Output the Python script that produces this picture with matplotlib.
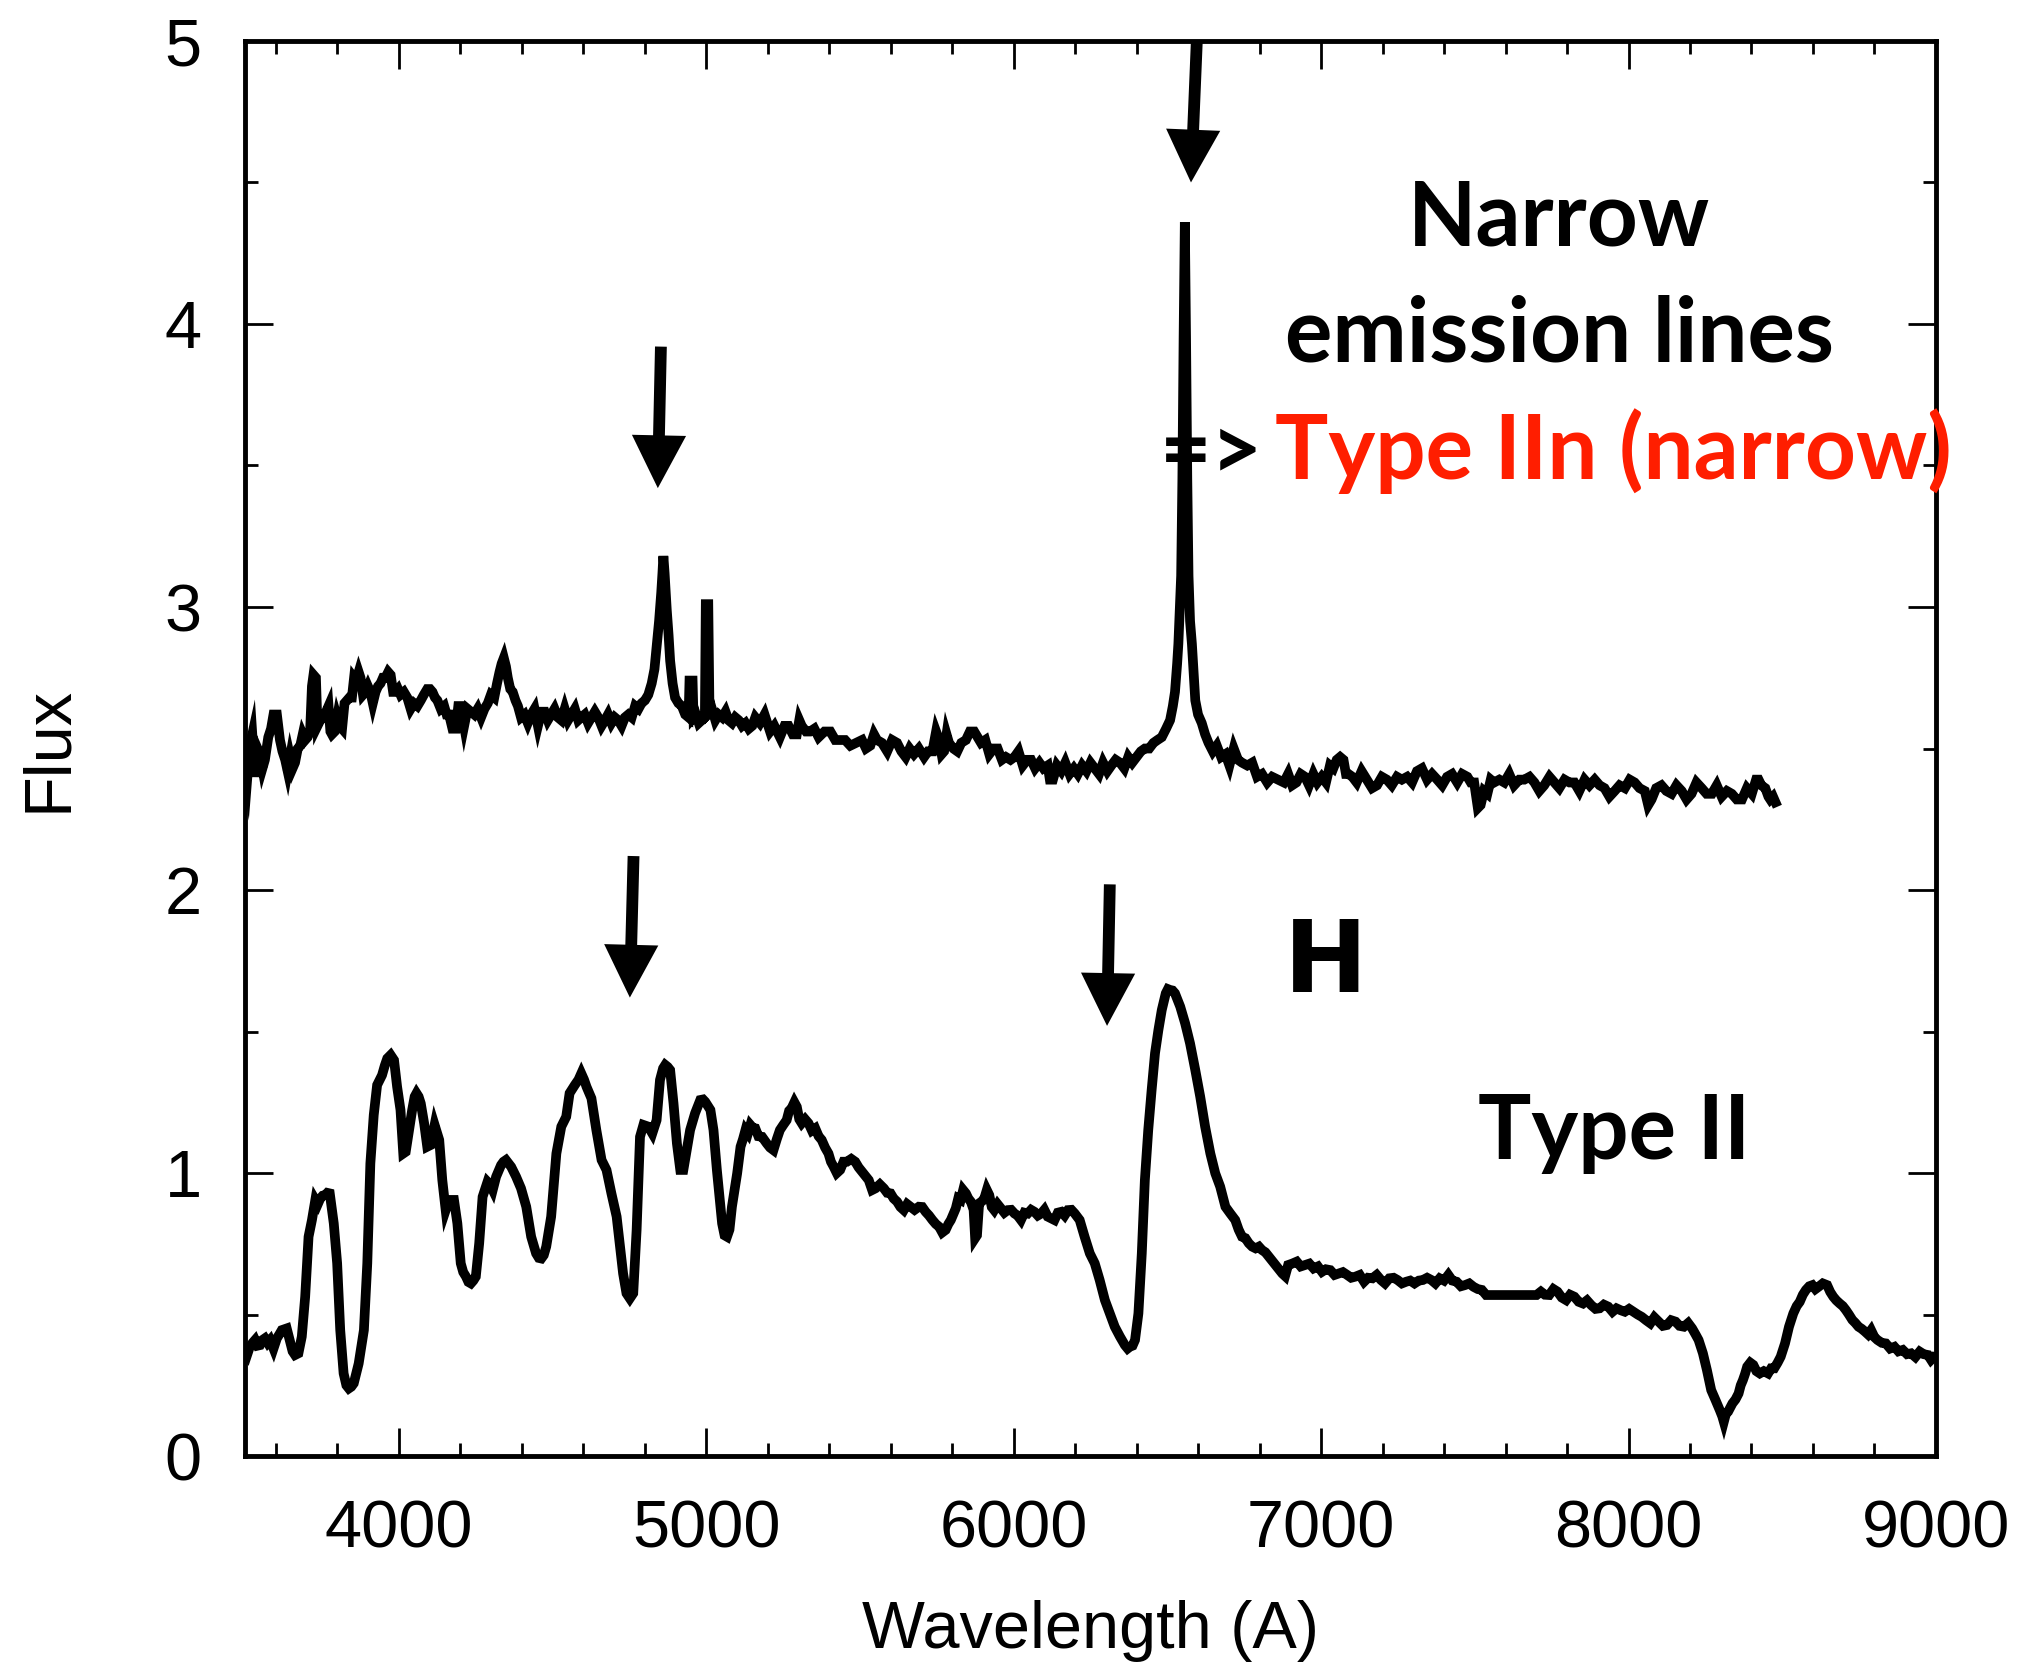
import matplotlib
matplotlib.use('Agg')
import matplotlib.pyplot as plt
from matplotlib.ticker import MultipleLocator

# upper spectrum (Type IIn), wavelength in A and flux
wave_iin = [3500, 3508, 3516, 3524, 3533, 3541, 3549, 3557, 3565, 3576, 3585, 3593, 3604, 3614, 3622,
            3631, 3639, 3647, 3655, 3663, 3672, 3680, 3688, 3696, 3704, 3712, 3718, 3723, 3731, 3736,
            3745, 3756, 3764, 3772, 3778, 3783, 3792, 3800, 3808, 3816, 3824, 3832, 3840, 3848, 3855,
            3862, 3870, 3876, 3884, 3892, 3900, 3908, 3916, 3925, 3933, 3941, 3949, 3957, 3966, 3974,
            3982, 3990, 3998, 4006, 4017, 4028, 4039, 4050, 4061, 4072, 4082, 4093, 4102, 4110, 4118,
            4126, 4137, 4148, 4156, 4164, 4175, 4186, 4194, 4202, 4213, 4224, 4235, 4246, 4257, 4268,
            4279, 4290, 4300, 4311, 4320, 4328, 4335, 4342, 4349, 4355, 4363, 4371, 4380, 4388, 4398,
            4409, 4420, 4431, 4442, 4453, 4464, 4475, 4485, 4496, 4507, 4518, 4529, 4540, 4551, 4562,
            4573, 4584, 4594, 4605, 4616, 4627, 4638, 4649, 4660, 4671, 4681, 4692, 4703, 4714, 4725,
            4736, 4747, 4758, 4769, 4780, 4790, 4801, 4812, 4823, 4832, 4839, 4847, 4854, 4858, 4861,
            4865, 4872, 4878, 4883, 4891, 4899, 4910, 4921, 4932, 4943, 4946, 4956, 4959, 4967, 4976,
            4986, 4996, 4999, 5007, 5011, 5019, 5030, 5041, 5052, 5063, 5073, 5084, 5095, 5106, 5117,
            5128, 5139, 5150, 5160, 5175, 5190, 5208, 5222, 5240, 5255, 5268, 5282, 5295, 5303, 5311,
            5325, 5338, 5352, 5366, 5385, 5404, 5420, 5436, 5452, 5469, 5488, 5507, 5520, 5534, 5546,
            5556, 5572, 5589, 5605, 5621, 5635, 5649, 5662, 5676, 5692, 5709, 5722, 5736, 5748, 5758,
            5766, 5774, 5782, 5790, 5804, 5817, 5830, 5845, 5858, 5872, 5883, 5894, 5908, 5921, 5935,
            5948, 5962, 5975, 5990, 6003, 6016, 6030, 6044, 6057, 6070, 6084, 6097, 6111, 6118, 6128,
            6141, 6155, 6168, 6182, 6196, 6209, 6223, 6237, 6250, 6264, 6278, 6291, 6305, 6318, 6332,
            6346, 6360, 6373, 6386, 6400, 6414, 6427, 6441, 6455, 6468, 6482, 6496, 6509, 6518, 6525,
            6532, 6536, 6541, 6545, 6549, 6553, 6557, 6561, 6565, 6569, 6574, 6580, 6586, 6591, 6600,
            6612, 6623, 6634, 6648, 6661, 6675, 6689, 6702, 6716, 6730, 6743, 6760, 6776, 6792, 6808,
            6825, 6841, 6860, 6879, 6893, 6906, 6920, 6934, 6948, 6961, 6975, 6988, 7002, 7016, 7029,
            7040, 7051, 7062, 7073, 7081, 7089, 7102, 7116, 7132, 7149, 7166, 7182, 7198, 7214, 7230,
            7247, 7263, 7280, 7296, 7312, 7328, 7345, 7361, 7378, 7394, 7410, 7426, 7443, 7459, 7476,
            7487, 7498, 7510, 7519, 7530, 7541, 7552, 7563, 7580, 7596, 7612, 7628, 7645, 7661, 7678,
            7694, 7710, 7726, 7743, 7759, 7775, 7792, 7808, 7824, 7840, 7857, 7873, 7890, 7906, 7922,
            7938, 7955, 7971, 7988, 8004, 8020, 8036, 8053, 8064, 8075, 8090, 8107, 8123, 8140, 8156,
            8173, 8189, 8205, 8221, 8238, 8254, 8271, 8287, 8303, 8320, 8336, 8352, 8369, 8385, 8401,
            8415, 8423, 8432, 8445, 8455, 8461, 8470, 8478]
flux_iin = [2.46, 2.40, 2.51, 2.55, 2.40, 2.50, 2.48, 2.43, 2.46, 2.54, 2.57, 2.62, 2.62, 2.53, 2.49,
            2.46, 2.42, 2.47, 2.43, 2.45, 2.50, 2.51, 2.55, 2.53, 2.54, 2.56, 2.72, 2.76, 2.75, 2.58,
            2.60, 2.61, 2.63, 2.65, 2.56, 2.55, 2.56, 2.61, 2.58, 2.57, 2.66, 2.67, 2.68, 2.68, 2.75,
            2.74, 2.77, 2.75, 2.69, 2.70, 2.72, 2.70, 2.66, 2.70, 2.72, 2.73, 2.75, 2.75, 2.77, 2.76,
            2.70, 2.70, 2.71, 2.69, 2.70, 2.68, 2.64, 2.66, 2.65, 2.67, 2.69, 2.71, 2.71, 2.70, 2.68,
            2.67, 2.64, 2.65, 2.62, 2.62, 2.57, 2.57, 2.65, 2.65, 2.58, 2.64, 2.63, 2.62, 2.64, 2.61,
            2.64, 2.66, 2.69, 2.68, 2.73, 2.77, 2.80, 2.82, 2.79, 2.75, 2.71, 2.70, 2.67, 2.65, 2.61,
            2.62, 2.59, 2.62, 2.64, 2.58, 2.63, 2.63, 2.60, 2.62, 2.64, 2.61, 2.60, 2.64, 2.60, 2.62,
            2.64, 2.60, 2.61, 2.62, 2.59, 2.61, 2.63, 2.61, 2.58, 2.60, 2.62, 2.59, 2.61, 2.60, 2.58,
            2.61, 2.62, 2.61, 2.65, 2.64, 2.66, 2.67, 2.69, 2.73, 2.78, 2.86, 2.95, 3.05, 3.12, 3.18,
            3.12, 2.99, 2.90, 2.81, 2.73, 2.68, 2.66, 2.65, 2.62, 2.61, 2.74, 2.74, 2.61, 2.62, 2.59,
            2.60, 2.61, 3.01, 3.01, 2.63, 2.64, 2.60, 2.62, 2.61, 2.63, 2.60, 2.59, 2.61, 2.60, 2.58,
            2.59, 2.57, 2.58, 2.61, 2.59, 2.62, 2.56, 2.58, 2.54, 2.58, 2.58, 2.55, 2.55, 2.60, 2.58,
            2.56, 2.56, 2.57, 2.54, 2.56, 2.56, 2.53, 2.53, 2.53, 2.51, 2.52, 2.53, 2.50, 2.51, 2.55,
            2.53, 2.52, 2.49, 2.53, 2.52, 2.49, 2.47, 2.50, 2.48, 2.50, 2.47, 2.49, 2.49, 2.56, 2.53,
            2.48, 2.49, 2.55, 2.52, 2.50, 2.49, 2.52, 2.53, 2.56, 2.56, 2.54, 2.52, 2.53, 2.48, 2.50,
            2.50, 2.46, 2.47, 2.46, 2.47, 2.49, 2.44, 2.46, 2.46, 2.43, 2.45, 2.43, 2.44, 2.39, 2.39,
            2.44, 2.42, 2.45, 2.41, 2.43, 2.41, 2.44, 2.42, 2.45, 2.43, 2.41, 2.45, 2.42, 2.44, 2.46,
            2.45, 2.43, 2.47, 2.45, 2.47, 2.49, 2.50, 2.50, 2.52, 2.53, 2.54, 2.57, 2.60, 2.65, 2.70,
            2.80, 2.87, 3.00, 3.11, 3.45, 3.95, 4.36, 3.95, 3.45, 3.11, 2.95, 2.87, 2.76, 2.67, 2.62,
            2.59, 2.55, 2.52, 2.49, 2.51, 2.47, 2.48, 2.44, 2.50, 2.46, 2.45, 2.44, 2.45, 2.40, 2.41,
            2.38, 2.40, 2.39, 2.38, 2.41, 2.37, 2.38, 2.41, 2.40, 2.37, 2.41, 2.38, 2.40, 2.38, 2.44,
            2.43, 2.46, 2.47, 2.46, 2.41, 2.41, 2.40, 2.38, 2.42, 2.39, 2.36, 2.37, 2.40, 2.39, 2.37,
            2.40, 2.39, 2.40, 2.38, 2.42, 2.43, 2.39, 2.41, 2.39, 2.37, 2.40, 2.41, 2.38, 2.41, 2.40,
            2.38, 2.38, 2.29, 2.30, 2.35, 2.34, 2.39, 2.38, 2.39, 2.38, 2.41, 2.37, 2.39, 2.39, 2.40,
            2.38, 2.35, 2.37, 2.40, 2.38, 2.36, 2.39, 2.38, 2.38, 2.35, 2.39, 2.37, 2.39, 2.37, 2.36,
            2.33, 2.35, 2.37, 2.36, 2.39, 2.38, 2.36, 2.35, 2.30, 2.32, 2.36, 2.37, 2.35, 2.34, 2.37,
            2.35, 2.32, 2.34, 2.38, 2.36, 2.34, 2.34, 2.37, 2.33, 2.35, 2.34, 2.32, 2.32, 2.36, 2.34,
            2.39, 2.39, 2.37, 2.36, 2.33, 2.32, 2.33, 2.31]

# lower spectrum (Type II)
wave_ii = [3500, 3508, 3516, 3525, 3533, 3541, 3549, 3557, 3565, 3574, 3582, 3593, 3604, 3612, 3620,
           3636, 3647, 3655, 3663, 3674, 3685, 3696, 3707, 3718, 3729, 3737, 3745, 3753, 3761, 3768,
           3776, 3789, 3800, 3810, 3821, 3830, 3838, 3846, 3854, 3870, 3887, 3898, 3908, 3919, 3930,
           3946, 3955, 3963, 3974, 3985, 3995, 4006, 4015, 4023, 4034, 4044, 4052, 4058, 4065, 4072,
           4083, 4093, 4104, 4117, 4132, 4142, 4153, 4164, 4180, 4191, 4202, 4210, 4219, 4227, 4235,
           4243, 4251, 4262, 4273, 4289, 4297, 4306, 4317, 4333, 4341, 4349, 4357, 4366, 4382, 4398,
           4415, 4431, 4447, 4456, 4464, 4472, 4480, 4496, 4513, 4529, 4545, 4556, 4573, 4585, 4594,
           4603, 4611, 4627, 4643, 4660, 4676, 4692, 4709, 4720, 4730, 4741, 4752, 4763, 4774, 4785,
           4796, 4812, 4825, 4839, 4850, 4860, 4867, 4875, 4883, 4894, 4905, 4916, 4926, 4937, 4948,
           4964, 4981, 4990, 4997, 5014, 5024, 5035, 5052, 5060, 5068, 5076, 5084, 5101, 5112, 5120,
           5128, 5136, 5144, 5152, 5160, 5170, 5182, 5197, 5208, 5219, 5230, 5240, 5251, 5262, 5270,
           5278, 5287, 5295, 5303, 5311, 5322, 5333, 5344, 5355, 5366, 5376, 5387, 5398, 5406, 5415,
           5425, 5436, 5447, 5458, 5472, 5485, 5496, 5507, 5518, 5529, 5540, 5551, 5565, 5578, 5589,
           5600, 5610, 5621, 5632, 5643, 5654, 5665, 5678, 5692, 5703, 5714, 5725, 5736, 5747, 5758,
           5768, 5779, 5788, 5796, 5812, 5820, 5828, 5836, 5845, 5853, 5861, 5870, 5875, 5881, 5888,
           5897, 5905, 5913, 5921, 5929, 5937, 5948, 5959, 5970, 5981, 5992, 6003, 6013, 6024, 6035,
           6046, 6057, 6068, 6079, 6090, 6100, 6111, 6122, 6133, 6144, 6155, 6166, 6177, 6188, 6199,
           6215, 6231, 6248, 6264, 6280, 6297, 6313, 6329, 6346, 6362, 6371, 6378, 6387, 6395, 6406,
           6417, 6427, 6438, 6449, 6460, 6471, 6482, 6495, 6502, 6509, 6517, 6525, 6542, 6558, 6574,
           6591, 6607, 6623, 6640, 6656, 6672, 6689, 6705, 6721, 6732, 6743, 6754, 6765, 6776, 6787,
           6798, 6808, 6819, 6830, 6841, 6852, 6863, 6874, 6883, 6893, 6906, 6921, 6934, 6948, 6962,
           6976, 6990, 7003, 7016, 7030, 7044, 7058, 7071, 7085, 7098, 7112, 7126, 7140, 7153, 7167,
           7181, 7195, 7208, 7222, 7236, 7249, 7263, 7277, 7290, 7304, 7318, 7331, 7345, 7359, 7372,
           7386, 7400, 7414, 7427, 7441, 7455, 7468, 7482, 7496, 7510, 7523, 7537, 7701, 7715, 7728,
           7742, 7756, 7769, 7783, 7797, 7810, 7824, 7838, 7852, 7865, 7879, 7893, 7906, 7920, 7934,
           7948, 7961, 7975, 7988, 8002, 8016, 8030, 8043, 8057, 8071, 8084, 8098, 8112, 8125, 8139,
           8153, 8166, 8180, 8194, 8207, 8218, 8228, 8242, 8255, 8269, 8283, 8297, 8305, 8310, 8317,
           8324, 8338, 8348, 8358, 8365, 8372, 8379, 8386, 8396, 8406, 8416, 8427, 8440, 8454, 8464,
           8474, 8485, 8495, 8509, 8522, 8536, 8547, 8557, 8567, 8577, 8588, 8598, 8608, 8618, 8632,
           8646, 8656, 8666, 8676, 8687, 8697, 8707, 8717, 8728, 8738, 8748, 8758, 8769, 8779, 8789,
           8800, 8810, 8824, 8837, 8851, 8865, 8878, 8892, 8906, 8919, 8933, 8947, 8960, 8974, 8984,
           8994, 9000]
flux_ii = [0.375, 0.36, 0.386, 0.40, 0.410, 0.39, 0.392, 0.41, 0.416, 0.40, 0.410, 0.380, 0.416, 0.43, 0.445,
           0.451, 0.404, 0.37, 0.357, 0.363, 0.422, 0.563, 0.775, 0.834, 0.905, 0.89, 0.910, 0.92, 0.922, 0.93,
           0.928, 0.822, 0.681, 0.445, 0.292, 0.25, 0.239, 0.245, 0.257, 0.327, 0.445, 0.681, 1.034, 1.205, 1.311,
           1.346, 1.38, 1.405, 1.417, 1.399, 1.305, 1.223, 1.069, 1.075, 1.152, 1.223, 1.27, 1.282, 1.27, 1.246,
           1.175, 1.093, 1.099, 1.170, 1.117, 0.975, 0.869, 0.905, 0.905, 0.822, 0.681, 0.65, 0.634, 0.615, 0.610,
           0.62, 0.634, 0.752, 0.916, 0.969, 0.96, 0.940, 0.987, 1.028, 1.04, 1.046, 1.035, 1.022, 0.987, 0.946,
           0.881, 0.775, 0.716, 0.70, 0.698, 0.71, 0.740, 0.846, 1.069, 1.164, 1.199, 1.282, 1.311, 1.33, 1.352,
           1.33, 1.305, 1.264, 1.152, 1.046, 1.011, 0.928, 0.846, 0.740, 0.645, 0.575, 0.557, 0.575, 0.799, 1.128,
           1.170, 1.164, 1.140, 1.187, 1.329, 1.37, 1.382, 1.375, 1.364, 1.246, 1.105, 1.011, 1.011, 1.081, 1.152,
           1.211, 1.258, 1.26, 1.252, 1.223, 1.152, 1.011, 0.822, 0.78, 0.775, 0.80, 0.881, 0.999, 1.093, 1.12,
           1.152, 1.14, 1.170, 1.16, 1.158, 1.13, 1.128, 1.105, 1.09, 1.081, 1.12, 1.152, 1.17, 1.187, 1.22,
           1.229, 1.25, 1.234, 1.19, 1.176, 1.19, 1.176, 1.15, 1.158, 1.13, 1.117, 1.09, 1.069, 1.04, 1.022,
           1.00, 1.011, 1.04, 1.040, 1.05, 1.040, 1.02, 1.005, 0.99, 0.975, 0.94, 0.946, 0.96, 0.946, 0.93,
           0.928, 0.91, 0.899, 0.88, 0.869, 0.89, 0.881, 0.87, 0.881, 0.88, 0.863, 0.85, 0.834, 0.82, 0.810,
           0.79, 0.799, 0.82, 0.834, 0.875, 0.91, 0.905, 0.94, 0.928, 0.91, 0.899, 0.87, 0.77, 0.78, 0.893,
           0.90, 0.911, 0.94, 0.922, 0.88, 0.869, 0.89, 0.875, 0.86, 0.869, 0.87, 0.857, 0.85, 0.834, 0.86,
           0.857, 0.87, 0.863, 0.85, 0.857, 0.87, 0.846, 0.84, 0.834, 0.86, 0.863, 0.85, 0.869, 0.87, 0.857,
           0.834, 0.775, 0.716, 0.681, 0.622, 0.551, 0.504, 0.457, 0.422, 0.392, 0.38, 0.386, 0.39, 0.410, 0.504,
           0.716, 0.975, 1.152, 1.293, 1.423, 1.505, 1.576, 1.635, 1.65, 1.647, 1.645, 1.635, 1.588, 1.529, 1.458,
           1.364, 1.270, 1.164, 1.069, 0.999, 0.952, 0.881, 0.857, 0.834, 0.80, 0.775, 0.77, 0.752, 0.74, 0.734,
           0.74, 0.728, 0.72, 0.705, 0.69, 0.675, 0.66, 0.645, 0.636, 0.675, 0.68, 0.687, 0.67, 0.675, 0.68,
           0.663, 0.67, 0.651, 0.66, 0.657, 0.64, 0.645, 0.65, 0.640, 0.63, 0.634, 0.64, 0.616, 0.63, 0.628,
           0.64, 0.622, 0.61, 0.628, 0.63, 0.622, 0.61, 0.616, 0.62, 0.610, 0.62, 0.622, 0.63, 0.622, 0.61,
           0.628, 0.62, 0.640, 0.62, 0.616, 0.60, 0.604, 0.61, 0.598, 0.59, 0.587, 0.569, 0.569, 0.581, 0.57,
           0.569, 0.59, 0.581, 0.56, 0.551, 0.57, 0.563, 0.545, 0.539, 0.55, 0.533, 0.52, 0.522, 0.535, 0.528,
           0.51, 0.522, 0.515, 0.510, 0.52, 0.510, 0.50, 0.492, 0.48, 0.469, 0.49, 0.475, 0.46, 0.463, 0.48,
           0.475, 0.46, 0.457, 0.47, 0.451, 0.43, 0.410, 0.363, 0.304, 0.233, 0.198, 0.162, 0.14, 0.121, 0.15,
           0.157, 0.186, 0.20, 0.221, 0.25, 0.268, 0.29, 0.316, 0.33, 0.322, 0.30, 0.292, 0.30, 0.292, 0.31,
           0.310, 0.33, 0.351, 0.398, 0.457, 0.504, 0.53, 0.545, 0.57, 0.587, 0.60, 0.604, 0.59, 0.598, 0.61,
           0.604, 0.58, 0.563, 0.55, 0.539, 0.53, 0.516, 0.50, 0.481, 0.47, 0.457, 0.45, 0.440, 0.43, 0.445,
           0.42, 0.410, 0.40, 0.398, 0.38, 0.386, 0.37, 0.375, 0.36, 0.363, 0.35, 0.369, 0.36, 0.357, 0.34,
           0.351, 0.35]

# arrows marking the hydrogen lines (tail, tip) in data units
arrow_tails = [(6596, 5.0), (4853, 3.92), (4764, 2.12), (6313, 2.02)]
arrow_tips = [(6577, 4.50), (4843, 3.42), (4752, 1.62), (6304, 1.52)]

plt.rcParams['font.family'] = ['Liberation Sans', 'DejaVu Sans']

fig = plt.figure(figsize=(20.291, 16.621), dpi=100)
ax = fig.add_axes([0.1207, 0.1239, 0.8334, 0.8514])

ax.plot(wave_iin, flux_iin, color='k', lw=7, solid_joinstyle='miter')
ax.plot(wave_ii, flux_ii, color='k', lw=7, solid_joinstyle='miter')

ax.set_xlim(3500, 9000)
ax.set_ylim(0, 5)
ax.xaxis.set_major_locator(MultipleLocator(1000))
ax.xaxis.set_minor_locator(MultipleLocator(200))
ax.yaxis.set_major_locator(MultipleLocator(1))
ax.yaxis.set_minor_locator(MultipleLocator(0.5))
ax.tick_params(which='both', direction='in', top=True, right=True, labelsize=48, pad=31)
ax.tick_params(which='major', length=20, width=2)
ax.tick_params(which='minor', length=9.5, width=2)
for sp in ax.spines.values():
    sp.set_linewidth(3.5)

ax.set_xlabel('Wavelength (A)', fontsize=48, va='baseline')
ax.xaxis.set_label_coords(0.5, -0.1357)
ax.set_ylabel('Flux', fontsize=48, va='center')
ax.yaxis.set_label_coords(-0.1159, 0.5)

for tail, tip in zip(arrow_tails, arrow_tips):
    ax.annotate('', xy=tip, xytext=tail,
                arrowprops=dict(arrowstyle='simple,head_length=38,head_width=39,tail_width=8.5',
                                mutation_scale=1, fc='k', ec='none', shrinkA=0, shrinkB=0))

bold = dict(family='Lato', weight='bold', fontsize=64)
ax.text(7774, 4.276, 'Narrow', ha='center', va='baseline', **bold)
ax.text(7774, 3.868, 'emission lines', ha='center', va='baseline', **bold)
ax.text(6475, 3.452, '=>', ha='left', va='baseline', **bold)
ax.text(6850, 3.452, 'Type IIn (narrow)', color='#ff1e00', ha='left', va='baseline', **bold)
ax.text(6880, 1.640, 'H', family='DejaVu Sans', weight='bold', fontsize=72, ha='left', va='baseline')
ax.text(7955, 1.049, 'Type II', ha='center', va='baseline', **bold)

fig.savefig('out.png', dpi=100)
